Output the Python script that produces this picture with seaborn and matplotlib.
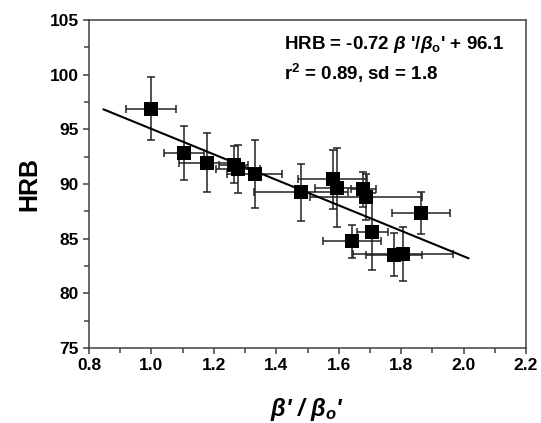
import numpy as np
import pandas as pd
import matplotlib
matplotlib.use("Agg")
import matplotlib.pyplot as plt
from matplotlib.font_manager import FontProperties
import seaborn as sns

# ---- data ----
ratio = [1.000, 1.104, 1.179, 1.263, 1.278, 1.331, 1.479, 1.581,
         1.595, 1.679, 1.688, 1.863, 1.708, 1.642, 1.778, 1.805]
hrb = [96.9, 92.85, 91.95, 91.75, 91.35, 90.95, 89.25, 90.45,
       89.65, 89.5, 88.85, 87.35, 85.65, 84.75, 83.55, 83.6]
ratio_err = [0.08, 0.063, 0.09, 0.045, 0.07, 0.088, 0.15, 0.11,
             0.07, 0.04, 0.18, 0.093, 0.05, 0.093, 0.09, 0.16]
hrb_err = [2.9, 2.5, 2.7, 1.7, 2.2, 3.1, 2.6, 2.7,
           3.6, 1.6, 2.1, 1.9, 3.5, 1.5, 2.0, 2.5]

fit_x = [0.846, 2.016]
fit_slope = -11.65
fit_intercept = 106.69

x_ticks = [0.8, 1.0, 1.2, 1.4, 1.6, 1.8, 2.0, 2.2]
y_ticks = [75, 80, 85, 90, 95, 100, 105]

sns.set_style("ticks")
plt.rcParams["font.family"] = ["Liberation Sans", "DejaVu Sans"]
plt.rcParams["font.weight"] = "bold"
plt.rcParams["text.color"] = "black"
plt.rcParams["axes.labelcolor"] = "black"
plt.rcParams["xtick.labelcolor"] = "black"
plt.rcParams["ytick.labelcolor"] = "black"
plt.rcParams["mathtext.fontset"] = "custom"
plt.rcParams["mathtext.rm"] = "Liberation Sans:bold"
plt.rcParams["mathtext.it"] = "Liberation Sans:italic:bold"
plt.rcParams["mathtext.bf"] = "Liberation Sans:bold"

df = pd.DataFrame({"ratio": ratio, "hrb": hrb})
fit_df = pd.DataFrame({"x": fit_x,
                       "y": [fit_intercept + fit_slope * v for v in fit_x]})

fig = plt.figure(figsize=(5.41, 4.23), dpi=100)
ax = fig.add_axes([89 / 541, 1 - 348 / 423, 437 / 541, 328 / 423])

ax.errorbar(ratio, hrb, xerr=ratio_err, yerr=hrb_err, fmt="none",
            ecolor="#222222", elinewidth=1.1, capsize=3, capthick=1.1, zorder=2)
sns.lineplot(data=fit_df, x="x", y="y", ax=ax, color="black", lw=1.5, zorder=3)
sns.scatterplot(data=df, x="ratio", y="hrb", ax=ax, marker="s", s=95,
                color="black", edgecolor="black", linewidth=0, zorder=4)

ax.set_xlim(0.8, 2.2)
ax.set_ylim(75, 105)
ax.set_xticks(x_ticks)
ax.set_yticks(y_ticks)
ax.set_xticks(np.arange(0.9, 2.2, 0.2), minor=True)
ax.set_yticks(np.arange(77.5, 105, 5), minor=True)

for sp in ax.spines.values():
    sp.set_color("#404040")
    sp.set_linewidth(1.1)
ax.tick_params(which="major", direction="out", length=4.5, width=1.1,
               color="#404040", labelcolor="black", pad=3)
ax.tick_params(which="minor", direction="out", length=3.5, width=1.1,
               color="#404040")

tick_fp = FontProperties(family="Liberation Sans", weight="bold", size=12.5)
ax.set_xticklabels([f"{v:.1f}" for v in x_ticks], fontproperties=tick_fp)
ax.set_yticklabels([str(v) for v in y_ticks], fontproperties=tick_fp)

ax.set_xlabel(r"$\beta$' / $\beta_o$'", fontsize=17, fontweight="bold",
              fontstyle="italic", labelpad=16, color="black")
ax.set_ylabel("HRB", fontsize=18, fontweight="bold", labelpad=6, color="black")

ax.text(0.446, 0.912, r"HRB = -0.72 $\beta$ '/$\beta_{\mathrm{o}}$' + 96.1",
        transform=ax.transAxes, fontsize=13.5, fontweight="bold", ha="left",
        va="baseline", color="black")
ax.text(0.446, 0.817, r"r$^2$ = 0.89, sd = 1.8", transform=ax.transAxes,
        fontsize=13.5, fontweight="bold", ha="left", va="baseline",
        color="black")

fig.savefig("out.png", dpi=100)
